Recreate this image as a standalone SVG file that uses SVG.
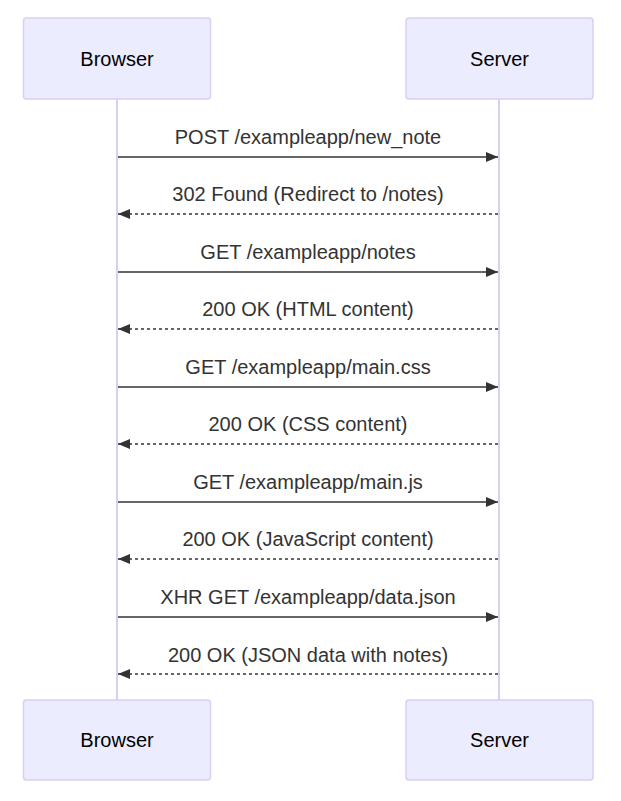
<svg xmlns="http://www.w3.org/2000/svg" width="621" height="801" viewBox="0 0 621 801">
<style>
.actor{fill:#ECECFF;stroke:#DACEF3;stroke-width:1.5}
.life{stroke:#DACEF3;stroke-width:2}
.atext{font-family:"Liberation Sans",Arial,sans-serif;font-size:20px;fill:#000;text-anchor:middle;dominant-baseline:central}
.mtext{font-family:"Liberation Sans",Arial,sans-serif;font-size:20px;fill:#333;text-anchor:middle;dominant-baseline:central}
.msg{stroke:#333;stroke-width:1.5;fill:none}
.dash{stroke-dasharray:3,3}
</style>
<defs>
<marker id="ah" viewBox="0 0 12 10" refX="12" refY="5" markerWidth="12" markerHeight="10" markerUnits="userSpaceOnUse" orient="auto">
<path d="M0,0 L12,5 L0,10 z" fill="#333"/>
</marker>
</defs>
<g id="lifelines">
<line class="life" x1="117" y1="99" x2="117" y2="700"/>
<line class="life" x1="499" y1="99" x2="499" y2="700"/>
</g>
<g id="browser-top"><rect class="actor" x="23.5" y="18" width="187" height="81" rx="3"/><text class="atext" x="117" y="58.5">Browser</text></g>
<g id="server-top"><rect class="actor" x="406" y="18" width="187" height="81" rx="3"/><text class="atext" x="499.5" y="58.5">Server</text></g>
<g id="browser-bottom"><rect class="actor" x="23.5" y="700" width="187" height="80" rx="3"/><text class="atext" x="117" y="740">Browser</text></g>
<g id="server-bottom"><rect class="actor" x="406" y="700" width="187" height="80" rx="3"/><text class="atext" x="499.5" y="740">Server</text></g>
<g id="connectors">
<line class="msg" x1="118" y1="157" x2="498" y2="157" marker-end="url(#ah)"/>
<line class="msg dash" x1="498" y1="214" x2="118" y2="214" marker-end="url(#ah)"/>
<line class="msg" x1="118" y1="272" x2="498" y2="272" marker-end="url(#ah)"/>
<line class="msg dash" x1="498" y1="329" x2="118" y2="329" marker-end="url(#ah)"/>
<line class="msg" x1="118" y1="387" x2="498" y2="387" marker-end="url(#ah)"/>
<line class="msg dash" x1="498" y1="444" x2="118" y2="444" marker-end="url(#ah)"/>
<line class="msg" x1="118" y1="502" x2="498" y2="502" marker-end="url(#ah)"/>
<line class="msg dash" x1="498" y1="559" x2="118" y2="559" marker-end="url(#ah)"/>
<line class="msg" x1="118" y1="617" x2="498" y2="617" marker-end="url(#ah)"/>
<line class="msg dash" x1="498" y1="674" x2="118" y2="674" marker-end="url(#ah)"/>
</g>
<g id="labels">
<text class="mtext" x="308" y="137">POST /exampleapp/new_note</text>
<text class="mtext" x="308" y="194">302 Found (Redirect to /notes)</text>
<text class="mtext" x="308" y="252">GET /exampleapp/notes</text>
<text class="mtext" x="308" y="309">200 OK (HTML content)</text>
<text class="mtext" x="308" y="367">GET /exampleapp/main.css</text>
<text class="mtext" x="308" y="424">200 OK (CSS content)</text>
<text class="mtext" x="308" y="482">GET /exampleapp/main.js</text>
<text class="mtext" x="308" y="539">200 OK (JavaScript content)</text>
<text class="mtext" x="308" y="597">XHR GET /exampleapp/data.json</text>
<text class="mtext" x="308" y="655">200 OK (JSON data with notes)</text>
</g>
</svg>
